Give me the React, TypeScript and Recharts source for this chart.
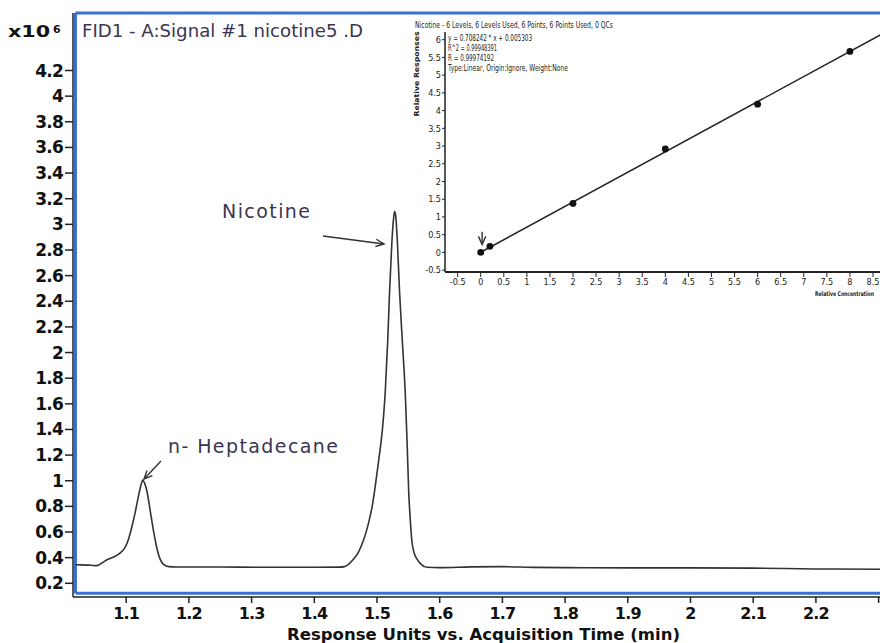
import React from 'react';
import { LineChart, Line, XAxis, YAxis, ReferenceLine, ComposedChart, Scatter } from 'recharts';

// chromatogram trace (time in min, signal x10^6)
const retentionTime = [
  1.0191, 1.03, 1.04, 1.05, 1.055, 1.062, 1.07, 1.08, 1.09, 1.097, 1.102, 1.108, 1.114, 1.12, 1.124,
  1.1265, 1.129, 1.133, 1.138, 1.1435, 1.148, 1.1515, 1.156, 1.16, 1.168, 1.18, 1.22, 1.28, 1.34, 1.4,
  1.44, 1.448, 1.455, 1.462, 1.47, 1.478, 1.486, 1.493, 1.497, 1.503, 1.509, 1.513, 1.517, 1.52, 1.5237,
  1.5265, 1.528, 1.5295, 1.5325, 1.536, 1.5405, 1.545, 1.548, 1.5505, 1.553, 1.5556, 1.559, 1.5636, 1.57,
  1.5796, 1.6, 1.65, 1.7, 1.75, 1.8, 1.9, 2.0, 2.1, 2.2, 2.3022,
];
const signal = [
  0.345, 0.344, 0.342, 0.338, 0.34, 0.36, 0.385, 0.405, 0.435, 0.47, 0.52, 0.62, 0.745, 0.89, 0.975,
  1.005, 0.985, 0.92, 0.775, 0.61, 0.495, 0.425, 0.37, 0.345, 0.33, 0.327, 0.327, 0.326, 0.325, 0.325,
  0.326, 0.33, 0.35, 0.385, 0.44, 0.53, 0.66, 0.82, 0.95, 1.17, 1.42, 1.68, 2.08, 2.47, 2.86,
  3.05, 3.1, 3.08, 2.86, 2.47, 2.08, 1.69, 1.3, 0.92, 0.7, 0.53, 0.44, 0.39, 0.35,
  0.325, 0.322, 0.328, 0.33, 0.324, 0.322, 0.32, 0.32, 0.318, 0.312, 0.31,
];
const timeTicks = [1.1, 1.2, 1.3, 1.4, 1.5, 1.6, 1.7, 1.8, 1.9, 2, 2.1, 2.2, 2.3];
const signalTicks = [0.2, 0.4, 0.6, 0.8, 1, 1.2, 1.4, 1.6, 1.8, 2, 2.2, 2.4, 2.6, 2.8, 3, 3.2, 3.4, 3.6, 3.8, 4, 4.2];

// calibration inset
const calConcentration = [0, 0.2, 2, 4, 6, 8];
const calResponse = [0, 0.17, 1.38, 2.92, 4.18, 5.67];
const fitConcentration = [0, 8.75];
const fitResponse = [0.005, 6.2];
const concTicks = [-0.5, 0, 0.5, 1, 1.5, 2, 2.5, 3, 3.5, 4, 4.5, 5, 5.5, 6, 6.5, 7, 7.5, 8, 8.5];
const respTicks = [-0.5, 0, 0.5, 1, 1.5, 2, 2.5, 3, 3.5, 4, 4.5, 5, 5.5, 6];
const regressionLines = [
  'y = 0.708242 * x + 0.005303',
  'R^2 = 0.99948391',
  'R = 0.99974192',
  'Type:Linear, Origin:Ignore, Weight:None',
];

const chromData = retentionTime.map((t, i) => ({ t, v: signal[i] }));
const calData = calConcentration.map((x, i) => ({ x, y: calResponse[i] }));
const fitData = fitConcentration.map((x, i) => ({ x, y: fitResponse[i] }));

const T_MIN = 1.01515;
const T_MAX = 2.3022;
const V_MIN = 0.0931;
const V_MAX = 4.6486;
const FRAME_T = 1.0191;
const FRAME_V = 0.122;

const BLUE = '#3a70d0';
const INK = '#3a3552';
const sans = "'DejaVu Sans', sans-serif";
const cond = "'DejaVu Sans Condensed', 'DejaVu Sans', sans-serif";

function arrow(label?: { text: string; dx: number; dy: number; width: number }) {
  return (p: any) => {
    const { x1, y1, x2, y2 } = p;
    const a = Math.atan2(y2 - y1, x2 - x1);
    const h = 9;
    const w = 0.42;
    const pts = `${x2 - h * Math.cos(a - w)},${y2 - h * Math.sin(a - w)} ${x2},${y2} ${x2 - h * Math.cos(a + w)},${y2 - h * Math.sin(a + w)}`;
    return (
      <g>
        <line x1={x1} y1={y1} x2={x2} y2={y2} stroke="#333" strokeWidth={1.4} />
        <polyline points={pts} fill="none" stroke="#333" strokeWidth={1.4} />
        {label && (
          <text x={x1 + label.dx} y={y1 + label.dy} fontFamily={sans} fontSize={19} fill={INK}
            textLength={label.width} lengthAdjust="spacing">
            {label.text}
          </text>
        )}
      </g>
    );
  };
}

export default function App() {
  return (
    <div style={{ position: 'absolute', left: 0, top: 0, width: 880, height: 643, overflow: 'hidden', background: '#fff' }}>
      <LineChart width={880} height={643} data={chromData} margin={{ top: 13, right: 0, bottom: 0, left: 0 }}>
        <XAxis type="number" dataKey="t" domain={[T_MIN, T_MAX]} allowDataOverflow ticks={timeTicks} interval={0}
          tickFormatter={(v: number) => (v >= 2.3 ? '' : String(v))}
          height={46} tickSize={6} tickMargin={5}
          axisLine={{ stroke: '#222', strokeWidth: 1.5 }} tickLine={{ stroke: '#222', strokeWidth: 1.5 }}
          tick={{ fontFamily: sans, fontWeight: 700, fontSize: 16, fill: '#111', letterSpacing: -0.8 }} />
        <YAxis type="number" dataKey="v" domain={[V_MIN, V_MAX]} allowDataOverflow ticks={signalTicks} interval={0}
          width={73} tickSize={8} tickMargin={2}
          axisLine={{ stroke: '#222', strokeWidth: 1.5 }} tickLine={{ stroke: '#222', strokeWidth: 1.5 }}
          tick={{ fontFamily: sans, fontWeight: 700, fontSize: 17, fill: '#111', letterSpacing: -0.8 }} />
        <ReferenceLine segment={[{ x: FRAME_T, y: FRAME_V }, { x: FRAME_T, y: V_MAX }]} stroke={BLUE} strokeWidth={3} />
        <ReferenceLine segment={[{ x: FRAME_T, y: V_MAX }, { x: T_MAX, y: V_MAX }]} stroke={BLUE} strokeWidth={3} />
        <ReferenceLine segment={[{ x: FRAME_T, y: FRAME_V }, { x: T_MAX, y: FRAME_V }]} stroke={BLUE} strokeWidth={3} />
        <Line type="monotone" dataKey="v" stroke="#333" strokeWidth={1.6} dot={false} isAnimationActive={false} />
        <ReferenceLine segment={[{ x: 1.4139, y: 2.909 }, { x: 1.5112, y: 2.847 }]}
          shape={arrow({ text: 'Nicotine', dx: -101, dy: -18, width: 88 })} />
        <ReferenceLine segment={[{ x: 1.1555, y: 1.154 }, { x: 1.1284, y: 1.0136 }]}
          shape={arrow({ text: 'n- Heptadecane', dx: 7, dy: -8, width: 170 })} />
      </LineChart>

      <div style={{ position: 'absolute', left: 400, top: 0 }}>
        <ComposedChart width={540} height={313} margin={{ top: 32, right: 0, bottom: 0, left: 5 }}>
          <XAxis type="number" dataKey="x" domain={[-0.774, 9.952]} allowDataOverflow ticks={concTicks} interval={0}
            height={41} tickSize={5} tickMargin={2}
            axisLine={{ stroke: '#222', strokeWidth: 2 }} tickLine={{ stroke: '#222' }}
            tick={{ fontFamily: cond, fontSize: 9, fill: '#222' }} />
          <YAxis type="number" dataKey="y" domain={[-0.553, 6.217]} allowDataOverflow ticks={respTicks} interval={0}
            width={40} tickSize={3} tickMargin={1}
            axisLine={{ stroke: '#222', strokeWidth: 1.5 }} tickLine={{ stroke: '#222' }}
            tick={{ fontFamily: cond, fontSize: 9, fill: '#222' }} />
          <Line data={fitData} type="linear" dataKey="y" stroke="#222" strokeWidth={1.5} dot={false} isAnimationActive={false} />
          <Scatter data={calData} dataKey="y" isAnimationActive={false}
            shape={(p: any) => <circle cx={p.cx} cy={p.cy} r={3.4} fill="#111" />} />
          <ReferenceLine segment={[{ x: 0.03, y: 0.58 }, { x: 0.03, y: 0.22 }]} shape={arrow()} />
        </ComposedChart>
      </div>

      <svg width={880} height={643} style={{ position: 'absolute', left: 0, top: 0, pointerEvents: 'none' }}>
        <text x={8} y={36.7} fontFamily={sans} fontWeight={700} fontSize={16} fill="#111" textLength={42} lengthAdjust="spacingAndGlyphs">x10</text>
        <text x={53} y={33} fontFamily={sans} fontWeight={700} fontSize={11} fill="#111">6</text>
        <text x={82} y={37} fontFamily={sans} fontSize={18} fill={INK} textLength={281} lengthAdjust="spacingAndGlyphs">FID1 - A:Signal #1 nicotine5 .D</text>
        <text x={287} y={640} fontFamily={sans} fontWeight={700} fontSize={16} fill="#111" textLength={393} lengthAdjust="spacingAndGlyphs">Response Units vs. Acquisition Time (min)</text>

        <text x={415} y={27.5} fontFamily={cond} fontSize={8} fill="#222" textLength={198} lengthAdjust="spacingAndGlyphs">Nicotine - 6 Levels, 6 Levels Used, 6 Points, 6 Points Used, 0 QCs</text>
        {regressionLines.map((s, i) => (
          <text key={s} x={448} y={40.5 + i * 10.3} fontFamily={cond} fontSize={8} fill="#222"
            textLength={[84, 49, 46, 120][i]} lengthAdjust="spacingAndGlyphs">{s}</text>
        ))}
        <text x={417} y={74} transform="rotate(-90 417 74)" textAnchor="middle" dominantBaseline="middle"
          fontFamily={cond} fontWeight={700} fontSize={7} fill="#222" textLength={85} lengthAdjust="spacingAndGlyphs">Relative Responses</text>
        <text x={0} y={0} transform="translate(815 296) scale(0.78 1)" fontFamily={cond} fontWeight={700} fontSize={6.5} fill="#222">Relative Concentration</text>
      </svg>
    </div>
  );
}
